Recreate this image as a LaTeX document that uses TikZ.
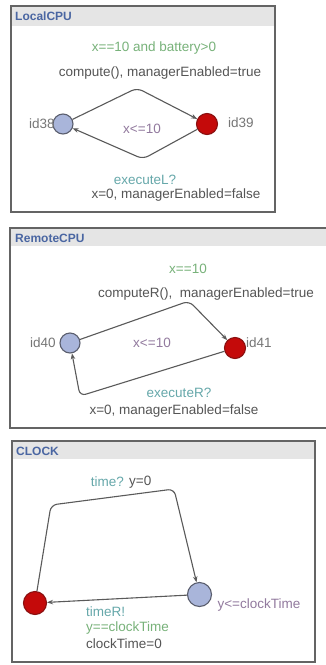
\documentclass[tikz,border=0pt]{standalone}
\usepackage{fontspec}
\setmainfont{Liberation Sans}
\usetikzlibrary{arrows.meta}
\definecolor{guardc}{HTML}{78B27A}
\definecolor{syncc}{HTML}{66A8AA}
\definecolor{assignc}{HTML}{555555}
\definecolor{invc}{HTML}{927A9E}
\definecolor{idc}{HTML}{767676}
\definecolor{titlec}{HTML}{4A66A2}
\definecolor{barc}{HTML}{E5E5E5}
\definecolor{framec}{HTML}{646464}
\definecolor{bluenode}{HTML}{A9B5DA}
\definecolor{bluebord}{HTML}{5A5E6E}
\definecolor{rednode}{HTML}{C40A0A}
\definecolor{redbord}{HTML}{8A1010}
\definecolor{edgec}{HTML}{5A5A5A}
\tikzset{
  panel/.style={draw=framec, line width=1.2pt, fill=white},
  titlebar/.style={fill=barc},
  ttl/.style={font=\fontsize{12}{14}\selectfont\bfseries, text=titlec, anchor=west, inner sep=0pt},
  lbl/.style={font=\fontsize{13.5}{15}\selectfont, inner sep=0pt},
  guard/.style={lbl, text=guardc},
  sync/.style={lbl, text=syncc},
  assign/.style={lbl, text=assignc},
  inv/.style={lbl, text=invc},
  idl/.style={lbl, text=idc},
  locb/.style={circle, draw=bluebord, fill=bluenode, line width=1.1pt, minimum size=20pt, inner sep=0pt},
  locr/.style={circle, draw=redbord, fill=rednode, line width=1.1pt, minimum size=21pt, inner sep=0pt},
  edge/.style={draw=edgec, line width=1.1pt, rounded corners=6pt, -{Stealth[length=6pt,width=4.5pt]}},
}
\begin{document}
\begin{tikzpicture}[x=1pt,y=-1pt]
\useasboundingbox (0,0) rectangle (326,665);
% ---------- LocalCPU ----------
\draw[panel] (11,6) rectangle (275,212);
\fill[titlebar] (11.6,6.6) rectangle (274.4,26);
\node[ttl] (t1) at (15,16.5) {LocalCPU};
\node[locb] (id38) at (63,124) {};
\node[locr] (id39) at (207,124) {};
\node[idl] (l38) at (42,124) {id38};
\node[idl] (l39) at (241,123) {id39};
\coordinate (c1) at (137,88);
\coordinate (c2) at (143,159);
\draw[edge] (id38) -- (c1) -- (id39);
\draw[edge] (id39) -- (c2) -- (id38);
\node[guard] (g1) at (154,48) {x==10 and battery>0};
\node[assign] (a1) at (160,73) {compute(), managerEnabled=true};
\node[inv] (i1) at (142,129) {x<=10};
\node[sync] (s1) at (145,180) {executeL?};
\node[assign] (a2) at (176,195) {x=0, managerEnabled=false};
% ---------- RemoteCPU ----------
\draw[panel] (10,228) rectangle (328,428);
\fill[titlebar] (10.6,228.6) rectangle (327,246);
\node[ttl] (t2) at (15,238) {RemoteCPU};
\node[locb] (id40) at (70,343) {};
\node[locr] (id41) at (235,348) {};
\node[idl] (l40) at (43,343) {id40};
\node[idl] (l41) at (259,343) {id41};
\coordinate (c3) at (189,301);
\coordinate (c4) at (80,396);
\draw[edge] (id40) -- (c3) -- (id41);
\draw[edge] (id41) -- (c4) -- (id40);
\node[guard] (g2) at (188,269) {x==10};
\node[assign] (a3) at (206,294) {computeR(), \ managerEnabled=true};
\node[inv] (i2) at (152,343) {x<=10};
\node[sync] (s2) at (179,393) {executeR?};
\node[assign] (a4) at (174,411) {x=0, managerEnabled=false};
% ---------- CLOCK ----------
\draw[panel] (12,441) rectangle (315,662);
\fill[titlebar] (12.6,441.6) rectangle (314.4,459);
\node[ttl] (t3) at (16,451) {CLOCK};
\node[locr, minimum size=23pt] (r0) at (35,603) {};
\node[locb, minimum size=24pt] (b0) at (199.5,594.5) {};
\coordinate (c5) at (51,505);
\coordinate (c6) at (174,489);
\draw[edge] (r0) -- (c5) -- (c6) -- (b0);
\draw[edge] (b0) -- (r0);
\node[sync, anchor=east] (s3) at (124,482) {time?};
\node[assign, anchor=west] (a5) at (129,482) {y=0};
\node[inv] (i3) at (259,605) {y<=clockTime};
\node[sync, anchor=west] (s4) at (86,612) {timeR!};
\node[guard, anchor=west] (g3) at (86,628) {y==clockTime};
\node[assign, anchor=west] (a6) at (86,644) {clockTime=0};
\end{tikzpicture}
\end{document}
